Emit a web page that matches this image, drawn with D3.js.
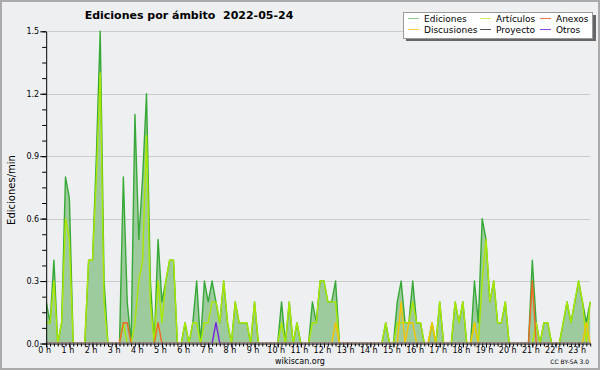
<!DOCTYPE html>
<html>
<head>
<meta charset="utf-8">
<script src="https://cdn.jsdelivr.net/npm/d3@7"></script>
<style>
  body { margin: 0; background: #eeeff1; }
  text { font-family: "DejaVu Sans", sans-serif; }
</style>
</head>
<body>
<div id="chart"></div>
<script>
// Ediciones por ámbito, 2022-05-24 - one value every 10 minutes (edits/min)
var hourLabels = ["0 h","1 h","2 h","3 h","4 h","5 h","6 h","7 h","8 h","9 h","10 h","11 h",
                  "12 h","13 h","14 h","15 h","16 h","17 h","18 h","19 h","20 h","21 h","22 h","23 h"];

var ediciones = [
  0.2,0.1,0.4,0,0.1,0.8,0.7,0,0,0,
  0,0.4,0.4,0.9,1.5,0.3,0,0,0,0,
  0.8,0.2,0,1.1,0.5,0.8,1.2,0.3,0,0.5,
  0.2,0.3,0.4,0.4,0,0,0.1,0,0.1,0.3,
  0,0.3,0.2,0.3,0.2,0.1,0.3,0.1,0,0.2,
  0.1,0.1,0.1,0,0.2,0,0,0,0,0,
  0,0.2,0,0.2,0,0.1,0,0,0,0.2,
  0.1,0.3,0.3,0.2,0.2,0.3,0,0,0,0,
  0,0,0,0,0,0,0,0,0.1,0,
  0,0.2,0.3,0.1,0.1,0.3,0.1,0.1,0,0,
  0.1,0,0.2,0,0,0,0.2,0.1,0.2,0,
  0,0.3,0.1,0.6,0.5,0.2,0.3,0.1,0.1,0.2,
  0,0,0,0,0,0,0.4,0.1,0,0.1,
  0.1,0,0,0,0.1,0.2,0.1,0.2,0.3,0.2,
  0.1,0.2
];
var articulos = [
  0.1,0.1,0.3,0,0.1,0.6,0.5,0,0,0,
  0,0.4,0.4,0.8,1.3,0.2,0,0,0,0,
  0.1,0,0,0.1,0.3,0.4,1.0,0.2,0,0.3,
  0.1,0.3,0.4,0.4,0,0,0.1,0,0.1,0.1,
  0,0.1,0.1,0.2,0.2,0.1,0.3,0.1,0,0.2,
  0.1,0.1,0.1,0,0.2,0,0,0,0,0,
  0,0.1,0,0.2,0,0.1,0,0,0,0.1,
  0.1,0.3,0.3,0.2,0.2,0.2,0,0,0,0,
  0,0,0,0,0,0,0,0,0.1,0,
  0,0.1,0.1,0.1,0.1,0.2,0.1,0.1,0,0,
  0.1,0,0.2,0,0,0,0.2,0.1,0.2,0,
  0,0.1,0,0.3,0.5,0.2,0.3,0.1,0.1,0.2,
  0,0,0,0,0,0,0,0.1,0,0.1,
  0.1,0,0,0,0.1,0.2,0.1,0.2,0.3,0.2,
  0,0.2
];
var anexos = [
  0,0,0,0,0,0,0,0,0,0,
  0,0,0,0,0,0,0,0,0,0,
  0.1,0.1,0,0,0,0,0,0,0,0.1,
  0,0,0,0,0,0,0,0,0,0,
  0,0,0,0,0,0,0,0,0,0,
  0,0,0,0,0,0,0,0,0,0,
  0,0,0,0,0,0,0,0,0,0,
  0,0,0,0,0,0,0,0,0,0,
  0,0,0,0,0,0,0,0,0,0,
  0,0,0,0,0,0,0,0,0,0,
  0,0,0,0,0,0,0,0,0,0,
  0,0,0,0,0,0,0,0,0,0,
  0,0,0,0,0,0,0.3,0,0,0,
  0,0,0,0,0,0,0,0,0,0,
  0,0
];
var discusiones = [
  0,0,0,0,0,0,0,0,0,0,
  0,0,0,0,0,0,0,0,0,0,
  0,0,0,0,0,0,0,0,0,0,
  0,0,0,0,0,0,0,0,0,0,
  0,0,0,0,0,0,0,0,0,0,
  0,0,0,0,0,0,0,0,0,0,
  0,0,0,0,0,0,0,0,0,0,
  0,0,0,0,0,0.1,0,0,0,0,
  0,0,0,0,0,0,0,0,0,0,
  0,0,0.2,0,0.1,0.1,0,0,0,0,
  0.1,0,0,0,0,0,0,0,0,0,
  0,0.1,0,0,0,0,0,0,0,0,
  0,0,0,0,0,0,0,0,0,0,
  0,0,0,0,0,0,0,0,0,0,
  0.1,0
];
var proyecto = [
  0,0,0,0,0,0,0,0,0,0,
  0,0,0,0,0,0,0,0,0,0,
  0,0,0,0,0,0,0,0,0,0,
  0,0,0,0,0,0,0,0,0,0,
  0,0,0,0,0,0,0,0,0,0,
  0,0,0,0,0,0,0,0,0,0,
  0,0,0,0,0,0,0,0,0,0,
  0,0,0,0,0,0,0,0,0,0,
  0,0,0,0,0,0,0,0,0,0,
  0,0,0,0,0,0,0,0,0,0,
  0,0,0,0,0,0,0,0,0,0,
  0,0,0,0,0,0,0,0,0,0,
  0,0,0,0,0,0,0,0,0,0,
  0,0,0,0,0,0,0,0,0,0,
  0,0
];
var otros = [
  0,0,0,0,0,0,0,0,0,0,
  0,0,0,0,0,0,0,0,0,0,
  0,0,0,0,0,0,0,0,0,0,
  0,0,0,0,0,0,0,0,0,0,
  0,0,0,0,0.1,0,0,0,0,0,
  0,0,0,0,0,0,0,0,0,0,
  0,0,0,0,0,0,0,0,0,0,
  0,0,0,0,0,0,0,0,0,0,
  0,0,0,0,0,0,0,0,0,0,
  0,0,0,0,0,0,0,0,0,0,
  0,0,0,0,0,0,0,0,0,0,
  0,0,0,0,0,0,0,0,0,0,
  0,0,0,0,0,0,0,0,0,0,
  0,0,0,0,0,0,0,0,0,0,
  0,0
];
var yTicks = [0, 0.3, 0.6, 0.9, 1.2, 1.5];

// series, in the order they are drawn (legend is filled row by row)
var series = [
  {name: "Ediciones",   values: ediciones,   color: "#36a936", legend: "#88cc88"},
  {name: "Artículos",   values: articulos,   color: "#aae800", legend: "#c8ee55"},
  {name: "Anexos",      values: anexos,      color: "#ee6a22", legend: "#ee7744"},
  {name: "Discusiones", values: discusiones, color: "#f5c400", legend: "#ffcc44"},
  {name: "Proyecto",    values: proyecto,    color: "#555555", legend: "#555555"},
  {name: "Otros",       values: otros,       color: "#7722dd", legend: "#8844ee"}
];
var legendOrder = ["Ediciones", "Artículos", "Anexos", "Discusiones", "Proyecto", "Otros"];

var width = 600, height = 370;
var plot = {left: 46.2, right: 590.2, top: 31.3, bottom: 343.5};

var svg = d3.select("#chart")
    .append("svg")
    .attr("width", width)
    .attr("height", height);

// background + frame
svg.append("rect")
    .attr("x", 1).attr("y", 1)
    .attr("width", width - 2).attr("height", height - 2)
    .style("fill", "#eeeff1")
    .style("stroke", "#aaaaaa")
    .style("stroke-width", 2);

// keep the series above the x axis line
svg.append("clipPath")
    .attr("id", "plotclip")
  .append("rect")
    .attr("x", plot.left).attr("y", 0)
    .attr("width", plot.right - plot.left + 2)
    .attr("height", plot.bottom - 0.6);

var x = d3.scaleLinear()
    .domain([0, ediciones.length - 1])
    .range([plot.left, plot.right]);
var y = d3.scaleLinear()
    .domain([0, 1.5])
    .range([plot.bottom, plot.top]);

// grid
svg.append("g").selectAll("line")
    .data(yTicks.slice(1))
    .enter().append("line")
    .attr("x1", plot.left).attr("x2", plot.right)
    .attr("y1", function(d) { return Math.round(y(d)) + 0.5; })
    .attr("y2", function(d) { return Math.round(y(d)) + 0.5; })
    .style("stroke", "#cccccc");

var plotArea = svg.append("g").attr("clip-path", "url(#plotclip)");

// Ediciones area
var area = d3.area()
    .x(function(d, i) { return x(i); })
    .y0(y(0))
    .y1(function(d) { return y(d); });
plotArea.append("path")
    .datum(ediciones)
    .attr("d", area)
    .style("fill", "#9ecb9e");

var line = d3.line()
    .x(function(d, i) { return x(i); })
    .y(function(d) { return y(d); });
plotArea.selectAll(".serie")
    .data(series)
    .enter().append("path")
    .attr("class", "serie")
    .attr("d", function(s) { return line(s.values); })
    .style("fill", "none")
    .style("stroke", function(s) { return s.color; })
    .style("stroke-width", 1.4)
    .style("stroke-linejoin", "round");

// y axis, major + minor ticks
var yMinor = d3.range(0, 1.5001, 0.075);
svg.append("g")
    .attr("transform", "translate(" + plot.left + ",0)")
    .call(d3.axisLeft(y).tickValues(yMinor).tickSize(4).tickFormat(""))
    .call(function(g) { g.select(".domain").remove(); });
svg.append("g")
    .attr("class", "yaxis")
    .attr("transform", "translate(" + plot.left + ",0)")
    .call(d3.axisLeft(y).tickValues(yTicks).tickSize(6).tickSizeOuter(0).tickPadding(1)
        .tickFormat(d3.format(".1f")));

// x axis, one tick every 10 minutes, label every hour
var xMinor = d3.range(0, ediciones.length);
var xMajor = d3.range(0, ediciones.length, 6);
svg.append("g")
    .attr("transform", "translate(0," + plot.bottom + ")")
    .call(d3.axisBottom(x).tickValues(xMinor).tickSize(3).tickFormat(""))
    .call(function(g) { g.select(".domain").remove(); });
svg.append("g")
    .attr("class", "xaxis")
    .attr("transform", "translate(0," + plot.bottom + ")")
    .call(d3.axisBottom(x).tickValues(xMajor).tickSize(4).tickSizeOuter(0).tickPadding(0)
        .tickFormat(function(d) { return hourLabels[d / 6]; }));

svg.selectAll(".tick text")
    .style("font-family", "DejaVu Sans")
    .style("font-size", "8px")
    .style("fill", "#000");
svg.selectAll(".xaxis .tick text").attr("dx", -2);
svg.selectAll(".domain").style("stroke", "#000");

// title (two spaces before the date)
svg.append("text")
    .attr("x", 189).attr("y", 18.5)
    .attr("text-anchor", "middle")
    .style("font-size", "11px")
    .style("font-weight", "bold")
    .style("white-space", "pre")
    .text("Ediciones por ámbito  2022-05-24");

// y label
svg.append("text")
    .attr("transform", "translate(15,190) rotate(-90)")
    .attr("text-anchor", "middle")
    .style("font-size", "10px")
    .text("Ediciones/min");

// footer
svg.append("text")
    .attr("x", 300).attr("y", 364)
    .attr("text-anchor", "middle")
    .style("font-size", "8px")
    .text("wikiscan.org");
svg.append("text")
    .attr("x", 589).attr("y", 364)
    .attr("text-anchor", "end")
    .style("font-size", "6px")
    .text("CC BY-SA 3.0");

// legend
var legend = svg.append("g");
legend.append("rect")
    .attr("x", 406).attr("y", 15)
    .attr("width", 190).attr("height", 26)
    .style("fill", "#666666");
legend.append("rect")
    .attr("x", 403.5).attr("y", 12.5)
    .attr("width", 189).attr("height", 26)
    .style("fill", "#ffffff")
    .style("stroke", "#999999");

var colX = [408, 480, 540];
var rowY = [18.5, 29.5];
var items = legend.selectAll(".item")
    .data(legendOrder)
    .enter().append("g")
    .attr("transform", function(d, i) {
      return "translate(" + colX[i % 3] + "," + rowY[Math.floor(i / 3)] + ")";
    });
items.append("line")
    .attr("x1", 0).attr("x2", 11)
    .style("stroke", function(d) {
      return series.find(function(s) { return s.name === d; }).legend;
    });
items.append("text")
    .attr("x", 16).attr("y", 3.5)
    .style("font-size", "9px")
    .text(function(d) { return d; });
</script>
</body>
</html>
